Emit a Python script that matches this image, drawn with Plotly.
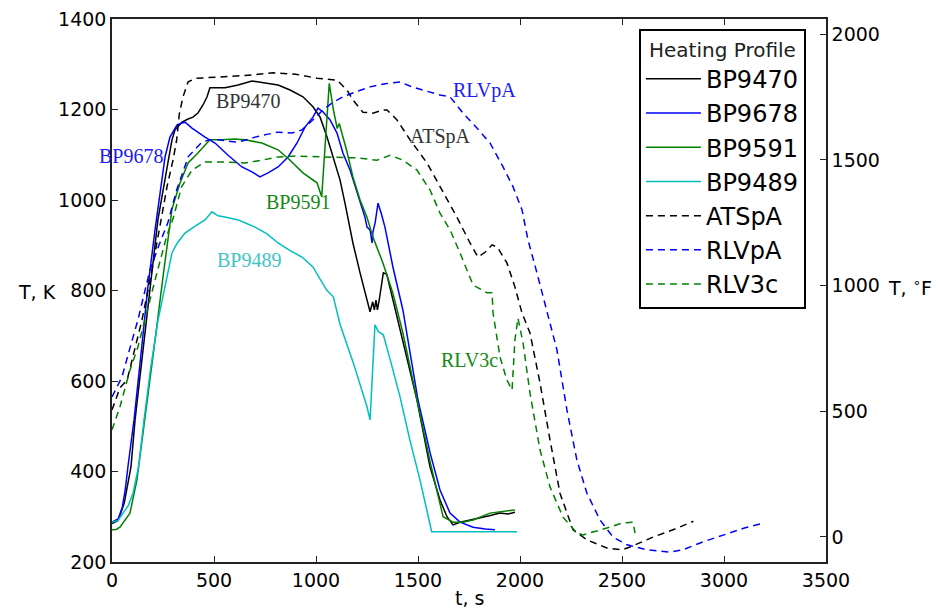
import plotly.graph_objects as go

# ---------------- data (t in s, T in K) ----------------
bp9470_t = [0, 30, 60, 80, 93, 113, 150, 186, 225, 274, 294, 309, 343, 373, 397, 421, 446, 466, 480, 554, 618, 686, 750, 814, 873, 936, 985, 1020, 1054, 1083, 1118, 1142, 1167, 1181, 1216, 1265, 1278, 1286, 1294, 1301, 1310, 1330, 1347, 1377, 1426, 1495, 1559, 1608, 1642, 1672, 1706, 1750, 1804, 1850, 1902, 1940, 1975]
bp9470_k = [285, 292, 330, 375, 410, 514, 660, 808, 956, 1082, 1133, 1155, 1172, 1179, 1183, 1192, 1210, 1228, 1248, 1248, 1254, 1263, 1259, 1254, 1243, 1228, 1206, 1183, 1139, 1095, 1044, 993, 934, 905, 839, 753, 775, 757, 779, 757, 779, 839, 836, 779, 691, 558, 410, 337, 300, 282, 288, 292, 297, 302, 308, 306, 310]

bp9678_t = [0, 30, 50, 65, 78, 108, 140, 176, 211, 260, 284, 319, 343, 358, 392, 456, 505, 569, 637, 686, 725, 765, 814, 863, 907, 946, 985, 1010, 1034, 1069, 1103, 1132, 1167, 1201, 1240, 1250, 1265, 1275, 1279, 1290, 1304, 1320, 1338, 1377, 1426, 1500, 1560, 1608, 1657, 1706, 1770, 1830, 1877]
bp9678_k = [288, 295, 320, 360, 410, 514, 650, 808, 934, 1095, 1139, 1166, 1170, 1172, 1159, 1139, 1126, 1099, 1073, 1062, 1051, 1060, 1073, 1095, 1126, 1161, 1183, 1203, 1195, 1177, 1148, 1104, 1066, 1015, 962, 940, 934, 905, 929, 950, 993, 970, 940, 852, 757, 558, 440, 359, 308, 288, 277, 273, 271]

bp9591_t = [0, 20, 39, 60, 88, 122, 160, 211, 250, 284, 294, 333, 373, 421, 480, 539, 600, 652, 735, 814, 873, 936, 1005, 1028, 1046, 1065, 1085, 1104, 1114, 1150, 1181, 1216, 1250, 1279, 1328, 1377, 1426, 1495, 1560, 1623, 1672, 1720, 1770, 1853, 1920, 1975]
bp9591_k = [271, 272, 277, 290, 308, 381, 510, 690, 830, 956, 980, 1037, 1082, 1104, 1133, 1133, 1135, 1133, 1126, 1111, 1088, 1060, 1038, 1007, 1130, 1258, 1200, 1158, 1169, 1110, 1051, 1000, 962, 918, 861, 794, 706, 558, 420, 300, 288, 288, 293, 308, 312, 315]

bp9489_t = [0, 30, 54, 80, 103, 130, 157, 190, 226, 260, 294, 320, 358, 400, 456, 490, 520, 560, 618, 660, 701, 760, 814, 873, 931, 985, 1052, 1085, 1118, 1183, 1225, 1250, 1265, 1289, 1306, 1330, 1362, 1412, 1460, 1510, 1567, 1700, 1850, 1985]
bp9489_k = [288, 292, 308, 325, 352, 410, 514, 630, 735, 810, 883, 905, 927, 940, 956, 974, 965, 962, 956, 948, 940, 925, 905, 888, 874, 852, 801, 786, 725, 640, 576, 543, 514, 724, 709, 702, 650, 565, 470, 381, 267, 267, 267, 267]

atspa_t = [0, 39, 74, 103, 147, 196, 230, 270, 300, 317, 330, 348, 373, 410, 456, 550, 650, 789, 900, 1005, 1103, 1152, 1181, 1230, 1279, 1328, 1348, 1397, 1461, 1544, 1608, 1691, 1755, 1794, 1830, 1863, 1890, 1936, 1975, 2010, 2049, 2098, 2147, 2196, 2260, 2328, 2426, 2500, 2539, 2652, 2760, 2850]
atspa_k = [536, 585, 602, 653, 735, 845, 930, 1030, 1090, 1133, 1190, 1228, 1261, 1269, 1270, 1272, 1275, 1281, 1278, 1269, 1265, 1243, 1221, 1194, 1192, 1199, 1199, 1177, 1133, 1082, 1029, 962, 905, 874, 885, 901, 895, 861, 808, 750, 706, 596, 470, 352, 271, 249, 231, 227, 233, 255, 273, 290]

rlvpa_t = [0, 49, 80, 127, 186, 230, 274, 317, 374, 441, 480, 520, 570, 618, 660, 701, 760, 814, 882, 931, 980, 1034, 1080, 1132, 1200, 1265, 1340, 1412, 1470, 1525, 1608, 1657, 1721, 1789, 1853, 1917, 1966, 2010, 2039, 2083, 2132, 2181, 2230, 2279, 2328, 2392, 2456, 2525, 2623, 2735, 2799, 2900, 3000, 3100, 3191]
rlvpa_k = [565, 609, 660, 735, 845, 900, 950, 1022, 1096, 1128, 1133, 1133, 1130, 1128, 1133, 1139, 1145, 1150, 1148, 1155, 1175, 1199, 1215, 1228, 1240, 1250, 1257, 1261, 1250, 1243, 1232, 1228, 1192, 1159, 1126, 1073, 1029, 978, 912, 839, 757, 669, 536, 425, 352, 293, 255, 238, 227, 222, 227, 245, 260, 275, 286]

rlv3c_t = [0, 39, 88, 127, 211, 268, 300, 341, 392, 456, 539, 652, 735, 814, 897, 1034, 1201, 1299, 1363, 1426, 1495, 1559, 1608, 1657, 1706, 1770, 1838, 1863, 1868, 1902, 1936, 1961, 1975, 1990, 2015, 2049, 2098, 2147, 2211, 2279, 2309, 2426, 2500, 2554, 2564]
rlv3c_k = [492, 543, 624, 675, 823, 920, 960, 1029, 1066, 1084, 1084, 1082, 1088, 1095, 1097, 1095, 1093, 1088, 1099, 1088, 1066, 1022, 971, 934, 883, 812, 795, 795, 750, 653, 602, 580, 690, 739, 684, 573, 448, 366, 299, 264, 260, 275, 286, 288, 264]

solid_series = [
    ("BP9470", bp9470_t, bp9470_k, "#000000"),
    ("BP9678", bp9678_t, bp9678_k, "#0000ff"),
    ("BP9591", bp9591_t, bp9591_k, "#008000"),
    ("BP9489", bp9489_t, bp9489_k, "#00bfbf"),
]
dashed_series = [
    ("ATSpA", atspa_t, atspa_k, "#000000"),
    ("RLVpA", rlvpa_t, rlvpa_k, "#0000ff"),
    ("RLV3c", rlv3c_t, rlv3c_k, "#008000"),
]

# curve labels: (text, t, K, colour)
curve_labels = [
    ("BP9470", 667, 1219, "#333333"),
    ("BP9678", 93, 1097, "#1a1aff"),
    ("BP9591", 914, 996, "#148a14"),
    ("BP9489", 672, 867, "#3fc4c4"),
    ("ATSpA", 1612, 1140, "#333333"),
    ("RLVpA", 1828, 1243, "#1a1aff"),
    ("RLV3c", 1752, 646, "#148a14"),
]

x_ticks = [0, 500, 1000, 1500, 2000, 2500, 3000, 3500]
k_ticks = [200, 400, 600, 800, 1000, 1200, 1400]
f_ticks = [0, 500, 1000, 1500, 2000]
k_range = [200, 1400]
f_range = [k * 1.8 - 459.67 for k in k_range]

fig = go.Figure()
for name, t, k, c in solid_series:
    fig.add_trace(go.Scatter(x=t, y=k, name=name, mode="lines",
                             line=dict(color=c, width=1.5), legendgroup=name))
for name, t, k, c in dashed_series:
    fig.add_trace(go.Scatter(x=t, y=k, name=name, mode="lines",
                             line=dict(color=c, width=1.5, dash="7px,5px"), legendgroup=name))
# empty trace to activate the secondary (deg F) axis
fig.add_trace(go.Scatter(x=[None], y=[None], yaxis="y2", showlegend=False, hoverinfo="skip"))

for text, t, k, c in curve_labels:
    fig.add_annotation(x=t, y=k, text=text, showarrow=False, xanchor="center", yanchor="middle",
                       font=dict(family="Liberation Serif", size=20, color=c))

axis_font = dict(family="DejaVu Sans", size=19, color="#000000")
fig.add_annotation(xref="paper", yref="paper", x=-0.105, y=0.497, text="T, K",
                   showarrow=False, xanchor="center", yanchor="middle", font=axis_font)
fig.add_annotation(xref="paper", yref="paper", x=1.118, y=0.506, text="T, <sup>∘</sup>F",
                   showarrow=False, xanchor="center", yanchor="middle", font=axis_font)
fig.add_annotation(xref="paper", yref="paper", x=0.5, y=-0.066, text="t, s",
                   showarrow=False, xanchor="center", yanchor="middle", font=axis_font)

tick_font = dict(family="DejaVu Sans", size=19, color="#000000")
fig.update_layout(
    template="none",
    width=932, height=602,
    margin=dict(l=104, r=114, t=11, b=48, autoexpand=False),
    paper_bgcolor="white", plot_bgcolor="white",
    font=dict(family="DejaVu Sans", color="#000000"),
    xaxis=dict(range=[0, 3500], tickvals=x_ticks, showgrid=False, zeroline=False,
               showline=True, linecolor="#222222", linewidth=1.5, mirror="ticks",
               ticks="inside", ticklen=6, tickcolor="#222222", tickfont=tick_font,
               automargin=False, ticklabeloverflow="allow"),
    yaxis=dict(range=k_range, tickvals=k_ticks, showgrid=False, zeroline=False,
               showline=True, linecolor="#222222", linewidth=1.5,
               ticks="inside", ticklen=6, tickcolor="#222222", tickfont=tick_font,
               automargin=False, ticklabeloverflow="allow"),
    yaxis2=dict(range=f_range, tickvals=f_ticks, overlaying="y", side="right",
                showgrid=False, zeroline=False, showline=True, linecolor="#222222",
                linewidth=1.5, ticks="inside", ticklen=6, tickcolor="#222222",
                tickfont=tick_font, automargin=False, ticklabeloverflow="allow"),
    legend=dict(x=0.738, y=0.982, xanchor="left", yanchor="top",
                bgcolor="white", bordercolor="#000000", borderwidth=2,
                font=dict(family="DejaVu Sans", size=24, color="#000000"),
                title=dict(text="Heating Profile", side="top center",
                           font=dict(family="DejaVu Sans", size=20, color="#222222")),
                tracegroupgap=0, itemwidth=55),
    showlegend=True,
)

fig.write_html("out.html")
